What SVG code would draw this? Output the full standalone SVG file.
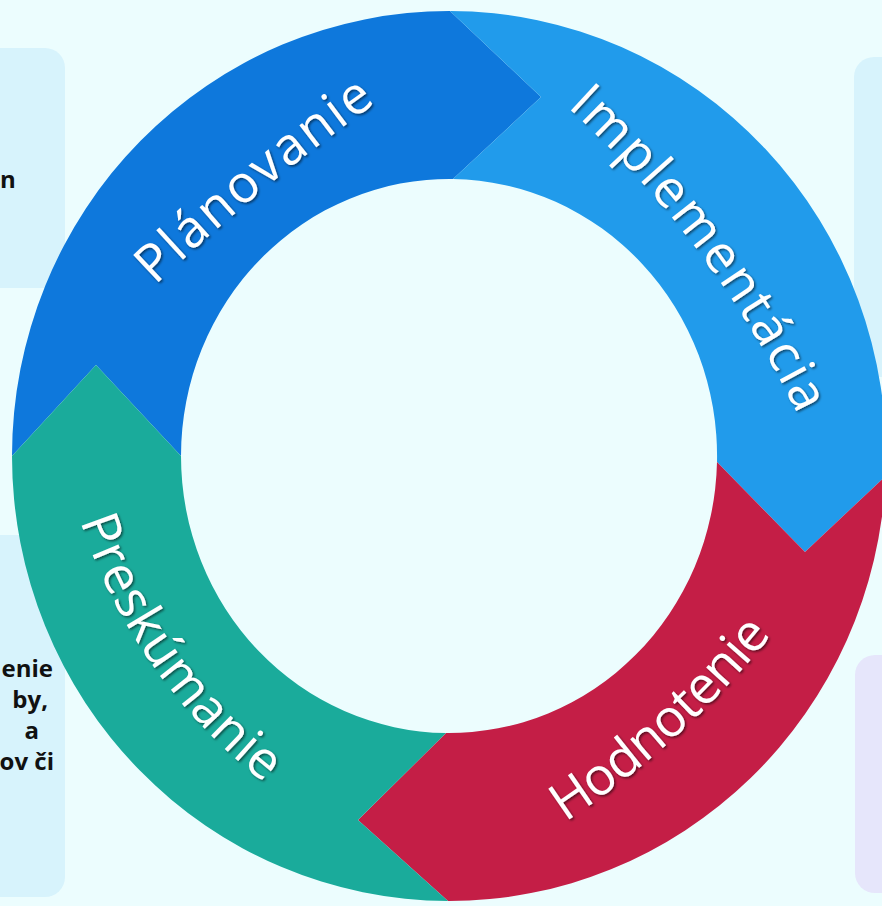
<svg xmlns="http://www.w3.org/2000/svg" width="882" height="906" viewBox="0 0 882 906">
  <defs>
    <filter id="shadow" x="-10%" y="-10%" width="120%" height="120%">
      <feDropShadow dx="1.5" dy="1.5" stdDeviation="1.2" flood-color="#000" flood-opacity="0.55"/>
    </filter>
    <path id="pPlan" d="M 9.9 439.5 A 2036 2036 0 0 1 554.3 -11.3"/>
    <path id="pImpl" d="M 438.6 7.8 A 1020 1020 0 0 1 857.3 566.1"/>
    <path id="pHod" d="M 438.9 891.6 A 904.6 904.6 0 0 0 852.7 515.7"/>
    <path id="pPres" d="M 54.2 396.5 A 553.8 553.8 0 0 0 373.1 849.3"/>
  </defs>
  <style>
    .lbl { font-family: "Open Sans", "Noto Sans", sans-serif; font-size: 52px; fill: #ffffff; filter: url(#shadow); }
    .side { font-family: "Open Sans", "Liberation Sans", sans-serif; font-size: 24px; font-weight: 700; fill: #111111; }
    .boxBlue { fill: #d7f3fc; }
    .boxLav { fill: #e6e6fb; }
  </style>
  <rect x="0" y="0" width="882" height="906" fill="#ecfdfe"/>

  <g id="box-top-left">
    <rect class="boxBlue" x="-40" y="48" width="105" height="240" rx="20"/>
    <text class="side" x="0" y="188">n</text>
  </g>
  <g id="box-bottom-left">
    <rect class="boxBlue" x="-40" y="535" width="105" height="362" rx="20"/>
    <text class="side" x="53" y="677" text-anchor="end">enie</text>
    <text class="side" x="48" y="708" text-anchor="end">by,</text>
    <text class="side" x="39" y="739" text-anchor="end">a</text>
    <text class="side" x="54" y="770" text-anchor="end">ov či</text>
  </g>
  <g id="box-top-right">
    <rect class="boxBlue" x="854" y="57" width="80" height="320" rx="20"/>
  </g>
  <g id="box-bottom-right">
    <rect class="boxLav" x="855" y="655" width="80" height="238" rx="20"/>
  </g>

  <g id="planovanie">
    <path fill="#0e78dc" d="M 12 456 A 437 445 0 0 1 450 11 L 541 97 L 453 179 A 268 277 0 0 0 181 456 L 96 365 Z"/>
    <text class="lbl"><textPath href="#pPlan" startOffset="50%" text-anchor="middle" textLength="287" lengthAdjust="spacing">Plánovanie</textPath></text>
  </g>
  <g id="implementacia">
    <path fill="#219beb" d="M 450 11 A 437 445 0 0 1 885.6 476 L 805 552 L 717 462 A 268 277 0 0 0 453 179 L 541 97 Z"/>
    <text class="lbl"><textPath href="#pImpl" startOffset="50%" text-anchor="middle" textLength="387" lengthAdjust="spacing">Implementácia</textPath></text>
  </g>
  <g id="hodnotenie">
    <path fill="#c41e46" d="M 885.6 476 A 437 445 0 0 1 448 901 L 358 820 L 446 733 A 268 277 0 0 0 717 462 L 805 552 Z"/>
    <text class="lbl"><textPath href="#pHod" startOffset="50%" text-anchor="middle" textLength="280" lengthAdjust="spacing">Hodnotenie</textPath></text>
  </g>
  <g id="preskumanie">
    <path fill="#1aab9b" d="M 448 901 A 437 445 0 0 1 12 456 L 96 365 L 181 456 A 268 277 0 0 0 446 733 L 358 820 Z"/>
    <text class="lbl"><textPath href="#pPres" startOffset="50%" text-anchor="middle" textLength="325" lengthAdjust="spacing">Preskúmanie</textPath></text>
  </g>
  <g id="connectors"/>
</svg>
